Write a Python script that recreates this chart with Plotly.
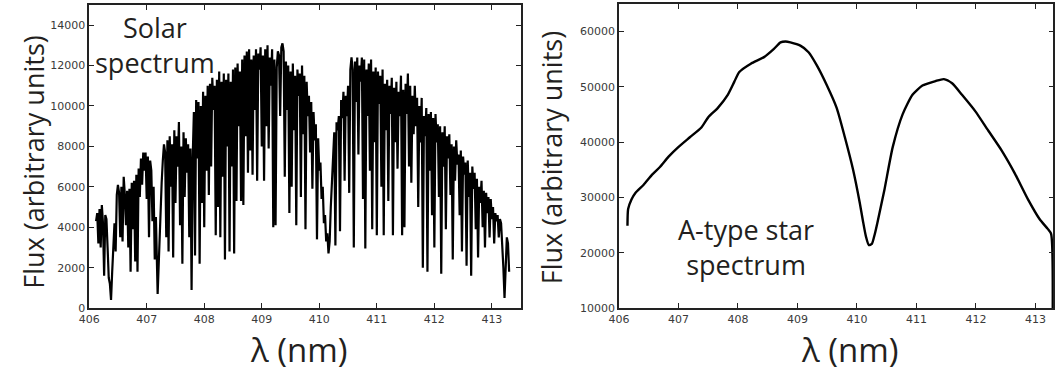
import plotly.graph_objects as go

# ---------------- Solar spectrum (left panel) ----------------
solar_wavelength = [
    406.12, 406.14, 406.16, 406.18, 406.20, 406.22, 406.24, 406.26, 406.28, 406.30,
    406.32, 406.34, 406.36, 406.38, 406.40, 406.42, 406.44, 406.46, 406.48,
    406.50, 406.52, 406.54, 406.56, 406.58, 406.60, 406.62, 406.64, 406.66, 406.68,
    406.70, 406.72, 406.74, 406.76, 406.78, 406.80, 406.82, 406.84, 406.86, 406.88,
    406.90, 406.92, 406.94, 406.96, 406.98, 407.00, 407.02, 407.04, 407.06, 407.08,
    407.10, 407.12, 407.14, 407.16, 407.19, 407.22, 407.24, 407.26, 407.28, 407.30,
    407.32, 407.34, 407.36, 407.38, 407.40, 407.42, 407.44, 407.46, 407.48, 407.50,
    407.52, 407.54, 407.56, 407.58, 407.60, 407.62, 407.64, 407.66, 407.68, 407.70,
    407.72, 407.74, 407.76, 407.78, 407.80, 407.82, 407.84, 407.86, 407.88, 407.90,
    407.92, 407.94, 407.96, 407.98, 408.00, 408.02, 408.04, 408.06, 408.08, 408.10,
    408.12, 408.14, 408.16, 408.18, 408.20, 408.22, 408.24, 408.26, 408.28, 408.30,
    408.32, 408.34, 408.36, 408.38, 408.40, 408.42, 408.44, 408.46, 408.48, 408.50,
    408.52, 408.54, 408.56, 408.58, 408.60, 408.62, 408.64, 408.66, 408.68, 408.70,
    408.72, 408.74, 408.76, 408.78, 408.80, 408.82, 408.84, 408.86, 408.88, 408.90,
    408.92, 408.94, 408.96, 408.98, 409.00, 409.02, 409.04, 409.06, 409.08, 409.10,
    409.12, 409.14, 409.16, 409.18, 409.20, 409.22, 409.24, 409.26, 409.28, 409.30,
    409.32, 409.34, 409.36, 409.38, 409.40, 409.42, 409.44, 409.46, 409.48, 409.50,
    409.52, 409.54, 409.56, 409.58, 409.60, 409.62, 409.64, 409.66, 409.68, 409.70,
    409.72, 409.74, 409.76, 409.78, 409.80, 409.82, 409.84, 409.86, 409.88, 409.90,
    409.92, 409.94, 409.96, 409.98, 410.00, 410.02, 410.04, 410.06, 410.08, 410.10,
    410.12, 410.14, 410.16, 410.18, 410.20, 410.22, 410.24, 410.26, 410.28, 410.30,
    410.32, 410.34, 410.36, 410.38, 410.40, 410.42, 410.44, 410.46, 410.48, 410.50,
    410.52, 410.54, 410.56, 410.58, 410.60, 410.62, 410.64, 410.66, 410.68, 410.70,
    410.72, 410.74, 410.76, 410.78, 410.80, 410.82, 410.84, 410.86, 410.88, 410.90,
    410.92, 410.94, 410.96, 410.98, 411.00, 411.02, 411.04, 411.06, 411.08, 411.10,
    411.12, 411.14, 411.16, 411.18, 411.20, 411.22, 411.24, 411.26, 411.28, 411.30,
    411.32, 411.34, 411.36, 411.38, 411.40, 411.42, 411.44, 411.46, 411.48, 411.50,
    411.52, 411.54, 411.56, 411.58, 411.60, 411.62, 411.64, 411.66, 411.68, 411.70,
    411.72, 411.74, 411.76, 411.78, 411.80, 411.82, 411.84, 411.86, 411.88, 411.90,
    411.92, 411.94, 411.96, 411.98, 412.00, 412.02, 412.04, 412.06, 412.08, 412.10,
    412.12, 412.14, 412.16, 412.18, 412.20, 412.22, 412.24, 412.26, 412.28, 412.30,
    412.32, 412.34, 412.36, 412.38, 412.40, 412.42, 412.44, 412.46, 412.48, 412.50,
    412.52, 412.54, 412.56, 412.58, 412.60, 412.62, 412.64, 412.66, 412.68, 412.70,
    412.72, 412.74, 412.76, 412.78, 412.80, 412.82, 412.84, 412.86, 412.88, 412.90,
    412.92, 412.94, 412.96, 412.98, 413.00, 413.02, 413.04, 413.06, 413.08, 413.10,
    413.12, 413.14, 413.16, 413.18, 413.20, 413.22, 413.24, 413.26, 413.28, 413.30,
]
solar_flux = [
    4300, 4700, 3200, 4900, 3000, 5100, 4200, 1600, 4600, 4400,
    3000, 1500, 1200, 400, 1800, 3000, 4200, 2800, 5600,
    6100, 5700, 3500, 6000, 3300, 6500, 5600, 4100, 5800, 3000,
    5900, 1800, 6200, 3900, 6300, 2300, 6600, 1800, 6900, 5500,
    7400, 6100, 7700, 6800, 7700, 5400, 7500, 3500, 7300, 6800,
    4300, 6000, 2400, 4500, 700, 3500, 5000, 6200, 7300, 8100,
    7700, 3500, 8300, 2800, 8500, 6000, 8100, 2500, 8800, 5200,
    8500, 7000, 9200, 4100, 8000, 2200, 8700, 5500, 8400, 6700,
    8100, 3500, 7900, 900, 7500, 9700, 2600, 10300, 7400, 10200,
    2200, 10000, 5200, 10700, 4000, 10500, 6800, 11000, 5600, 11100,
    7000, 11400, 9800, 11000, 3600, 11300, 5000, 11700, 3500, 11200,
    6500, 11600, 2400, 11300, 8000, 11600, 2800, 11200, 7000, 11800,
    2700, 11900, 5300, 12100, 9000, 11700, 5300, 12300, 5100, 12500,
    8500, 12700, 6700, 12800, 7800, 12300, 6600, 12500, 9800, 12800,
    6300, 12600, 11800, 12900, 8000, 12500, 6300, 12800, 9000, 13000,
    7900, 12400, 11000, 12800, 4000, 12300, 4100, 11900, 12700, 12500,
    9500, 12900, 13100, 12700, 6500, 12200, 9800, 12000, 4700, 11700,
    6000, 12100, 8800, 11500, 4100, 11800, 10500, 11600, 5500, 12000,
    8600, 11500, 3900, 11200, 9500, 10500, 7700, 10200, 5900, 9700,
    8300, 9100, 3400, 8400, 6800, 7200, 5400, 6000, 4200, 4600,
    3300, 3700, 2700, 3300, 5000, 6500, 7800, 8700, 3100, 9200,
    8800, 9500, 3800, 10300, 9400, 10700, 6300, 10500, 9500, 11000,
    5700, 11800, 12400, 11800, 3000, 12200, 10200, 12400, 7600, 12000,
    11200, 12400, 5400, 12300, 2950, 11800, 9500, 12100, 6800, 12300,
    3900, 11700, 8200, 11900, 3600, 11700, 10100, 11500, 6000, 11800,
    3600, 11100, 8800, 11300, 5300, 11000, 9600, 11400, 3600, 10900,
    8200, 11200, 6900, 10700, 9500, 11500, 3600, 10800, 4000, 11100,
    9600, 11600, 7000, 11000, 6200, 10500, 8600, 11000, 9000, 10400,
    5000, 10000, 8200, 10400, 2000, 9500, 8500, 9900, 1800, 9600,
    6800, 9700, 4600, 9400, 3000, 9600, 8200, 9100, 5500, 9000,
    1700, 8700, 7000, 9000, 3900, 8500, 7400, 8600, 5600, 8100,
    2400, 8000, 6300, 8300, 7100, 7600, 4600, 7800, 2800, 7500,
    6600, 7200, 2100, 7300, 5500, 6700, 1600, 7000, 5900, 6700,
    3900, 6400, 2500, 6000, 5200, 6300, 4000, 5800, 3000, 5700,
    4700, 5500, 3500, 5400, 4400, 5000, 3200, 4700, 4300, 4600,
    3500, 4400, 4200, 3300, 2000, 500, 2500, 3500, 3200, 1800,
]

# ---------------- A-type star spectrum (right panel) ----------------
astar_wavelength = [
    406.144, 406.155, 406.211, 406.277, 406.416, 406.554, 406.693, 406.831, 406.998,
    407.192, 407.386, 407.497, 407.663, 407.829, 407.940, 408.023, 408.217, 408.439,
    408.605, 408.716, 408.800, 408.882, 409.049, 409.187, 409.326, 409.492, 409.659,
    409.797, 409.936, 410.047, 410.100, 410.150, 410.200, 410.250, 410.300, 410.351,
    410.462, 410.601, 410.767, 410.933, 411.100, 411.322, 411.460, 411.599, 411.765,
    411.987, 412.208, 412.430, 412.652, 412.874, 413.068, 413.206, 413.262, 413.290,
]
astar_flux = [
    24900, 27900, 29650, 30830, 32310, 34090, 35560, 37340, 39110,
    40890, 42660, 44440, 46210, 48570, 50950, 52700, 54200, 55380,
    56860, 58040, 58200, 58040, 57450, 56270, 53900, 50350, 46210,
    40890, 34970, 29050, 25800, 23000, 21400, 21600, 23400, 25800,
    31420, 39110, 45030, 48570, 50240, 51060, 51410, 50650, 48570,
    45620, 42070, 38520, 34370, 29650, 26100, 24320, 23440, 9800,
]

x_ticks = [406, 407, 408, 409, 410, 411, 412, 413]
solar_y_ticks = [0, 2000, 4000, 6000, 8000, 10000, 12000, 14000]
astar_y_ticks = [10000, 20000, 30000, 40000, 50000, 60000]

W, H = 1057, 372
TEXT_FONT = "Open Sans"
TEXT_COLOR = "#231f20"

fig = go.Figure()
fig.add_trace(go.Scatter(x=solar_wavelength, y=solar_flux, mode="lines",
                         line=dict(color="black", width=2.2),
                         xaxis="x", yaxis="y", showlegend=False))
fig.add_trace(go.Scatter(x=astar_wavelength, y=astar_flux, mode="lines",
                         line=dict(color="black", width=2.4, shape="spline", smoothing=0.6),
                         xaxis="x2", yaxis="y2", showlegend=False))

axis_common = dict(showline=True, linecolor="#222", linewidth=1.6, mirror="ticks",
                   ticks="inside", ticklen=5, tickwidth=1.2, tickcolor="#222",
                   showgrid=False, zeroline=False, tickformat="d",
                   tickfont=dict(family="DejaVu Sans", size=11, color="#3a3a3a"))

fig.update_layout(
    width=W, height=H,
    margin=dict(l=0, r=0, t=0, b=0),
    paper_bgcolor="white", plot_bgcolor="white",
    xaxis=dict(domain=[79/W, 515/W], range=[406, 413.5], tickvals=x_ticks,
               anchor="y", **axis_common),
    yaxis=dict(domain=[(H-314)/H, (H-5)/H], range=[0, 15000], tickvals=solar_y_ticks,
               anchor="x", **axis_common),
    xaxis2=dict(domain=[614.3/W, 1053.3/W], range=[406, 413.3], tickvals=x_ticks,
                anchor="y2", **axis_common),
    yaxis2=dict(domain=[(H-314)/H, (H-4)/H], range=[10000, 65000], tickvals=astar_y_ticks,
                anchor="x2", **axis_common),
)

annotations = [
    dict(text="Solar<br>spectrum", x=146/W, y=1-46/H, yanchor="middle", font=dict(size=27)),
    dict(text="A-type star<br>spectrum", x=743/W, y=1-252/H, yanchor="middle", font=dict(size=27)),
    dict(text="Flux (arbitrary units)", x=23/W, y=1-165/H, yanchor="middle", textangle=-90, font=dict(size=27)),
    dict(text="Flux (arbitrary units)", x=547/W, y=1-161/H, yanchor="middle", textangle=-90, font=dict(size=27)),
    dict(text="λ (nm)", x=291/W, y=1-331/H, yanchor="top", font=dict(size=33)),
    dict(text="λ (nm)", x=848/W, y=1-331/H, yanchor="top", font=dict(size=33)),
]
for a in annotations:
    a["font"].update(family=TEXT_FONT, color=TEXT_COLOR)
    fig.add_annotation(xref="paper", yref="paper", showarrow=False,
                       xanchor="center", **a)

fig.write_html("out.html")
